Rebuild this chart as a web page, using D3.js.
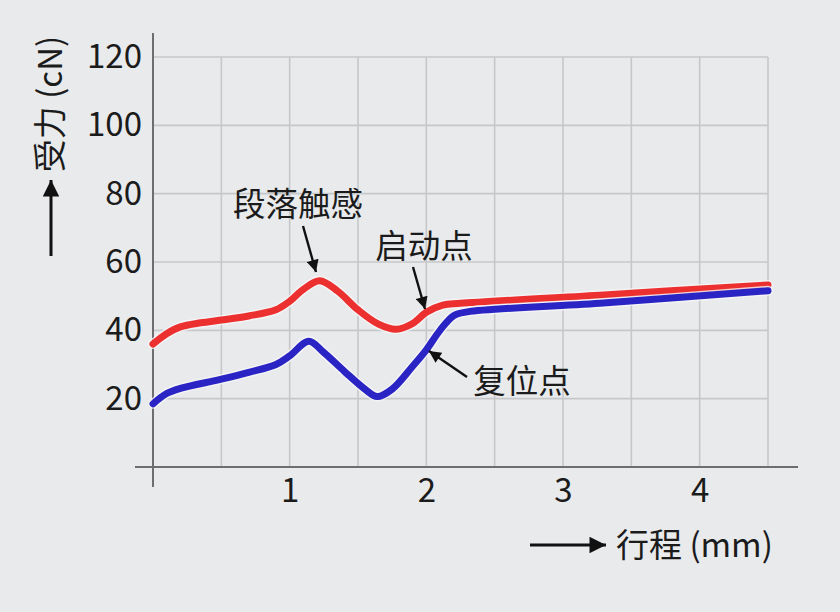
<!DOCTYPE html>
<html>
<head>
<meta charset="utf-8">
<script src="https://cdn.jsdelivr.net/npm/d3@7"></script>
<style>
  html, body { margin: 0; padding: 0; background: #e9eaec; }
  svg { display: block; }
  text { font-family: "Noto Sans CJK SC", "Noto Sans", sans-serif; fill: #1b1b1b; }
</style>
</head>
<body>
<svg id="chart" width="840" height="612"></svg>
<script>
// Travel (mm) sampled along each curve
const pressTravel   = [0, 0.1, 0.2, 0.35, 0.5, 0.7, 0.9, 1.0, 1.1, 1.22, 1.35, 1.5, 1.65, 1.78, 1.9, 2.0, 2.12, 2.25, 3.27, 4.5];
// Force (cN) while pressing — red curve
const pressForce    = [36, 39, 41, 42.2, 43, 44.2, 46, 48.5, 52, 54.5, 51.5, 46, 41.8, 40.3, 42, 45.3, 47.4, 47.9, 50.3, 53.3];
const releaseTravel = [0, 0.1, 0.2, 0.5, 0.7, 0.9, 1.0, 1.14, 1.25, 1.4, 1.55, 1.64, 1.75, 1.9, 2.0, 2.1, 2.2, 2.3, 3.27, 4.5];
// Force (cN) while releasing — blue curve
const releaseForce  = [18.5, 21.5, 23, 25.7, 27.7, 30, 32.5, 36.8, 33.5, 28, 22.8, 20.6, 22.8, 29.5, 34.3, 40, 44.3, 45.4, 47.9, 51.6];

const xTicks = [1, 2, 3, 4];
const yTicks = [20, 40, 60, 80, 100, 120];
const xGrid  = [0.5, 1, 1.5, 2, 2.5, 3, 3.5, 4, 4.5];
const yGrid  = [20, 40, 60, 80, 100, 120];

const svg = d3.select("#chart");
const x = d3.scaleLinear().domain([0, 4.5]).range([153, 768]);
const y = d3.scaleLinear().domain([0, 120]).range([467, 57]);

svg.append("rect").attr("width", 840).attr("height", 612).attr("fill", "#e9eaec");

// arrowheads
const defs = svg.append("defs");
defs.append("marker").attr("id", "head").attr("viewBox", "0 0 10 10")
  .attr("refX", 10).attr("refY", 5).attr("markerWidth", 6).attr("markerHeight", 5)
  .attr("markerUnits", "strokeWidth").attr("orient", "auto")
  .append("path").attr("d", "M0,0 L10,5 L0,10 Z").attr("fill", "#111");
defs.append("marker").attr("id", "bigHead").attr("viewBox", "0 0 10 10")
  .attr("refX", 10).attr("refY", 5).attr("markerWidth", 7.5).attr("markerHeight", 5.5)
  .attr("markerUnits", "strokeWidth").attr("orient", "auto")
  .append("path").attr("d", "M0,0 L10,5 L0,10 Z").attr("fill", "#111");

// grid
const grid = svg.append("g").attr("stroke", "#c6c7c9").attr("stroke-width", 1.6);
grid.selectAll(".gx").data(xGrid).join("line")
  .attr("x1", d => x(d)).attr("x2", d => x(d))
  .attr("y1", y(0)).attr("y2", y(120));
grid.selectAll(".gy").data(yGrid).join("line")
  .attr("x1", x(0)).attr("x2", x(4.5))
  .attr("y1", d => y(d)).attr("y2", d => y(d));

// axis lines
svg.append("line").attr("x1", x(0)).attr("x2", x(0))
  .attr("y1", y(0) + 20).attr("y2", y(120) - 24)
  .attr("stroke", "#6e6e70").attr("stroke-width", 2);
svg.append("line").attr("x1", x(0) - 18).attr("x2", x(4.5) + 30)
  .attr("y1", y(0)).attr("y2", y(0))
  .attr("stroke", "#6e6e70").attr("stroke-width", 2);

// tick labels
const fontStack = "'Noto Sans CJK SC', 'Noto Sans', sans-serif";
const yAxis = svg.append("g").attr("transform", `translate(${x(0)},0)`)
  .call(d3.axisLeft(y).tickValues(yTicks).tickSize(0).tickPadding(11));
yAxis.select(".domain").remove();
yAxis.selectAll("text").attr("font-size", 33).attr("font-family", fontStack).attr("fill", "#1b1b1b");

const xAxis = svg.append("g").attr("transform", `translate(0,${y(0)})`)
  .call(d3.axisBottom(x).tickValues(xTicks).tickFormat(d3.format("d")).tickSize(0).tickPadding(12));
xAxis.select(".domain").remove();
xAxis.selectAll("text").attr("font-size", 33).attr("font-family", fontStack).attr("fill", "#1b1b1b");

// curves
const line = d3.line().x(d => x(d[0])).y(d => y(d[1])).curve(d3.curveCatmullRom.alpha(0.5));
const press = pressTravel.map((t, i) => [t, pressForce[i]]);
const release = releaseTravel.map((t, i) => [t, releaseForce[i]]);

[[press, "#ec2f2f"], [release, "#2a24c4"]].forEach(([pts, col]) => {
  svg.append("path").attr("d", line(pts)).attr("fill", "none")
    .attr("stroke", "#f6f6f8").attr("stroke-opacity", 0.8).attr("stroke-width", 10)
    .attr("stroke-linecap", "round").attr("stroke-linejoin", "round");
  svg.append("path").attr("d", line(pts)).attr("fill", "none")
    .attr("stroke", col).attr("stroke-width", 7)
    .attr("stroke-linecap", "round").attr("stroke-linejoin", "round");
});

// annotations
const notes = [
  { text: "段落触感", tx: 298, ty: 216, from: [303, 226], to: [316, 272] },
  { text: "启动点",   tx: 424, ty: 258, from: [413, 267], to: [425, 309] },
  { text: "复位点",   tx: 522, ty: 393, from: [467, 377], to: [429, 351] }
];
notes.forEach(n => {
  svg.append("text").attr("x", n.tx).attr("y", n.ty).attr("text-anchor", "middle")
    .attr("font-size", 32.5).text(n.text);
  svg.append("line").attr("x1", n.from[0]).attr("y1", n.from[1])
    .attr("x2", n.to[0]).attr("y2", n.to[1])
    .attr("stroke", "#111").attr("stroke-width", 2.4).attr("marker-end", "url(#head)");
});

// axis titles
svg.append("text").attr("transform", "translate(62,104) rotate(-90)")
  .attr("text-anchor", "middle").attr("font-size", 33).text("受力 (cN)");
svg.append("line").attr("x1", 51).attr("y1", 256).attr("x2", 51).attr("y2", 180)
  .attr("stroke", "#111").attr("stroke-width", 3).attr("marker-end", "url(#bigHead)");

svg.append("line").attr("x1", 530).attr("y1", 545).attr("x2", 606).attr("y2", 545)
  .attr("stroke", "#111").attr("stroke-width", 3).attr("marker-end", "url(#bigHead)");
svg.append("text").attr("x", 616).attr("y", 557).attr("font-size", 33).text("行程 (mm)");
</script>
</body>
</html>
